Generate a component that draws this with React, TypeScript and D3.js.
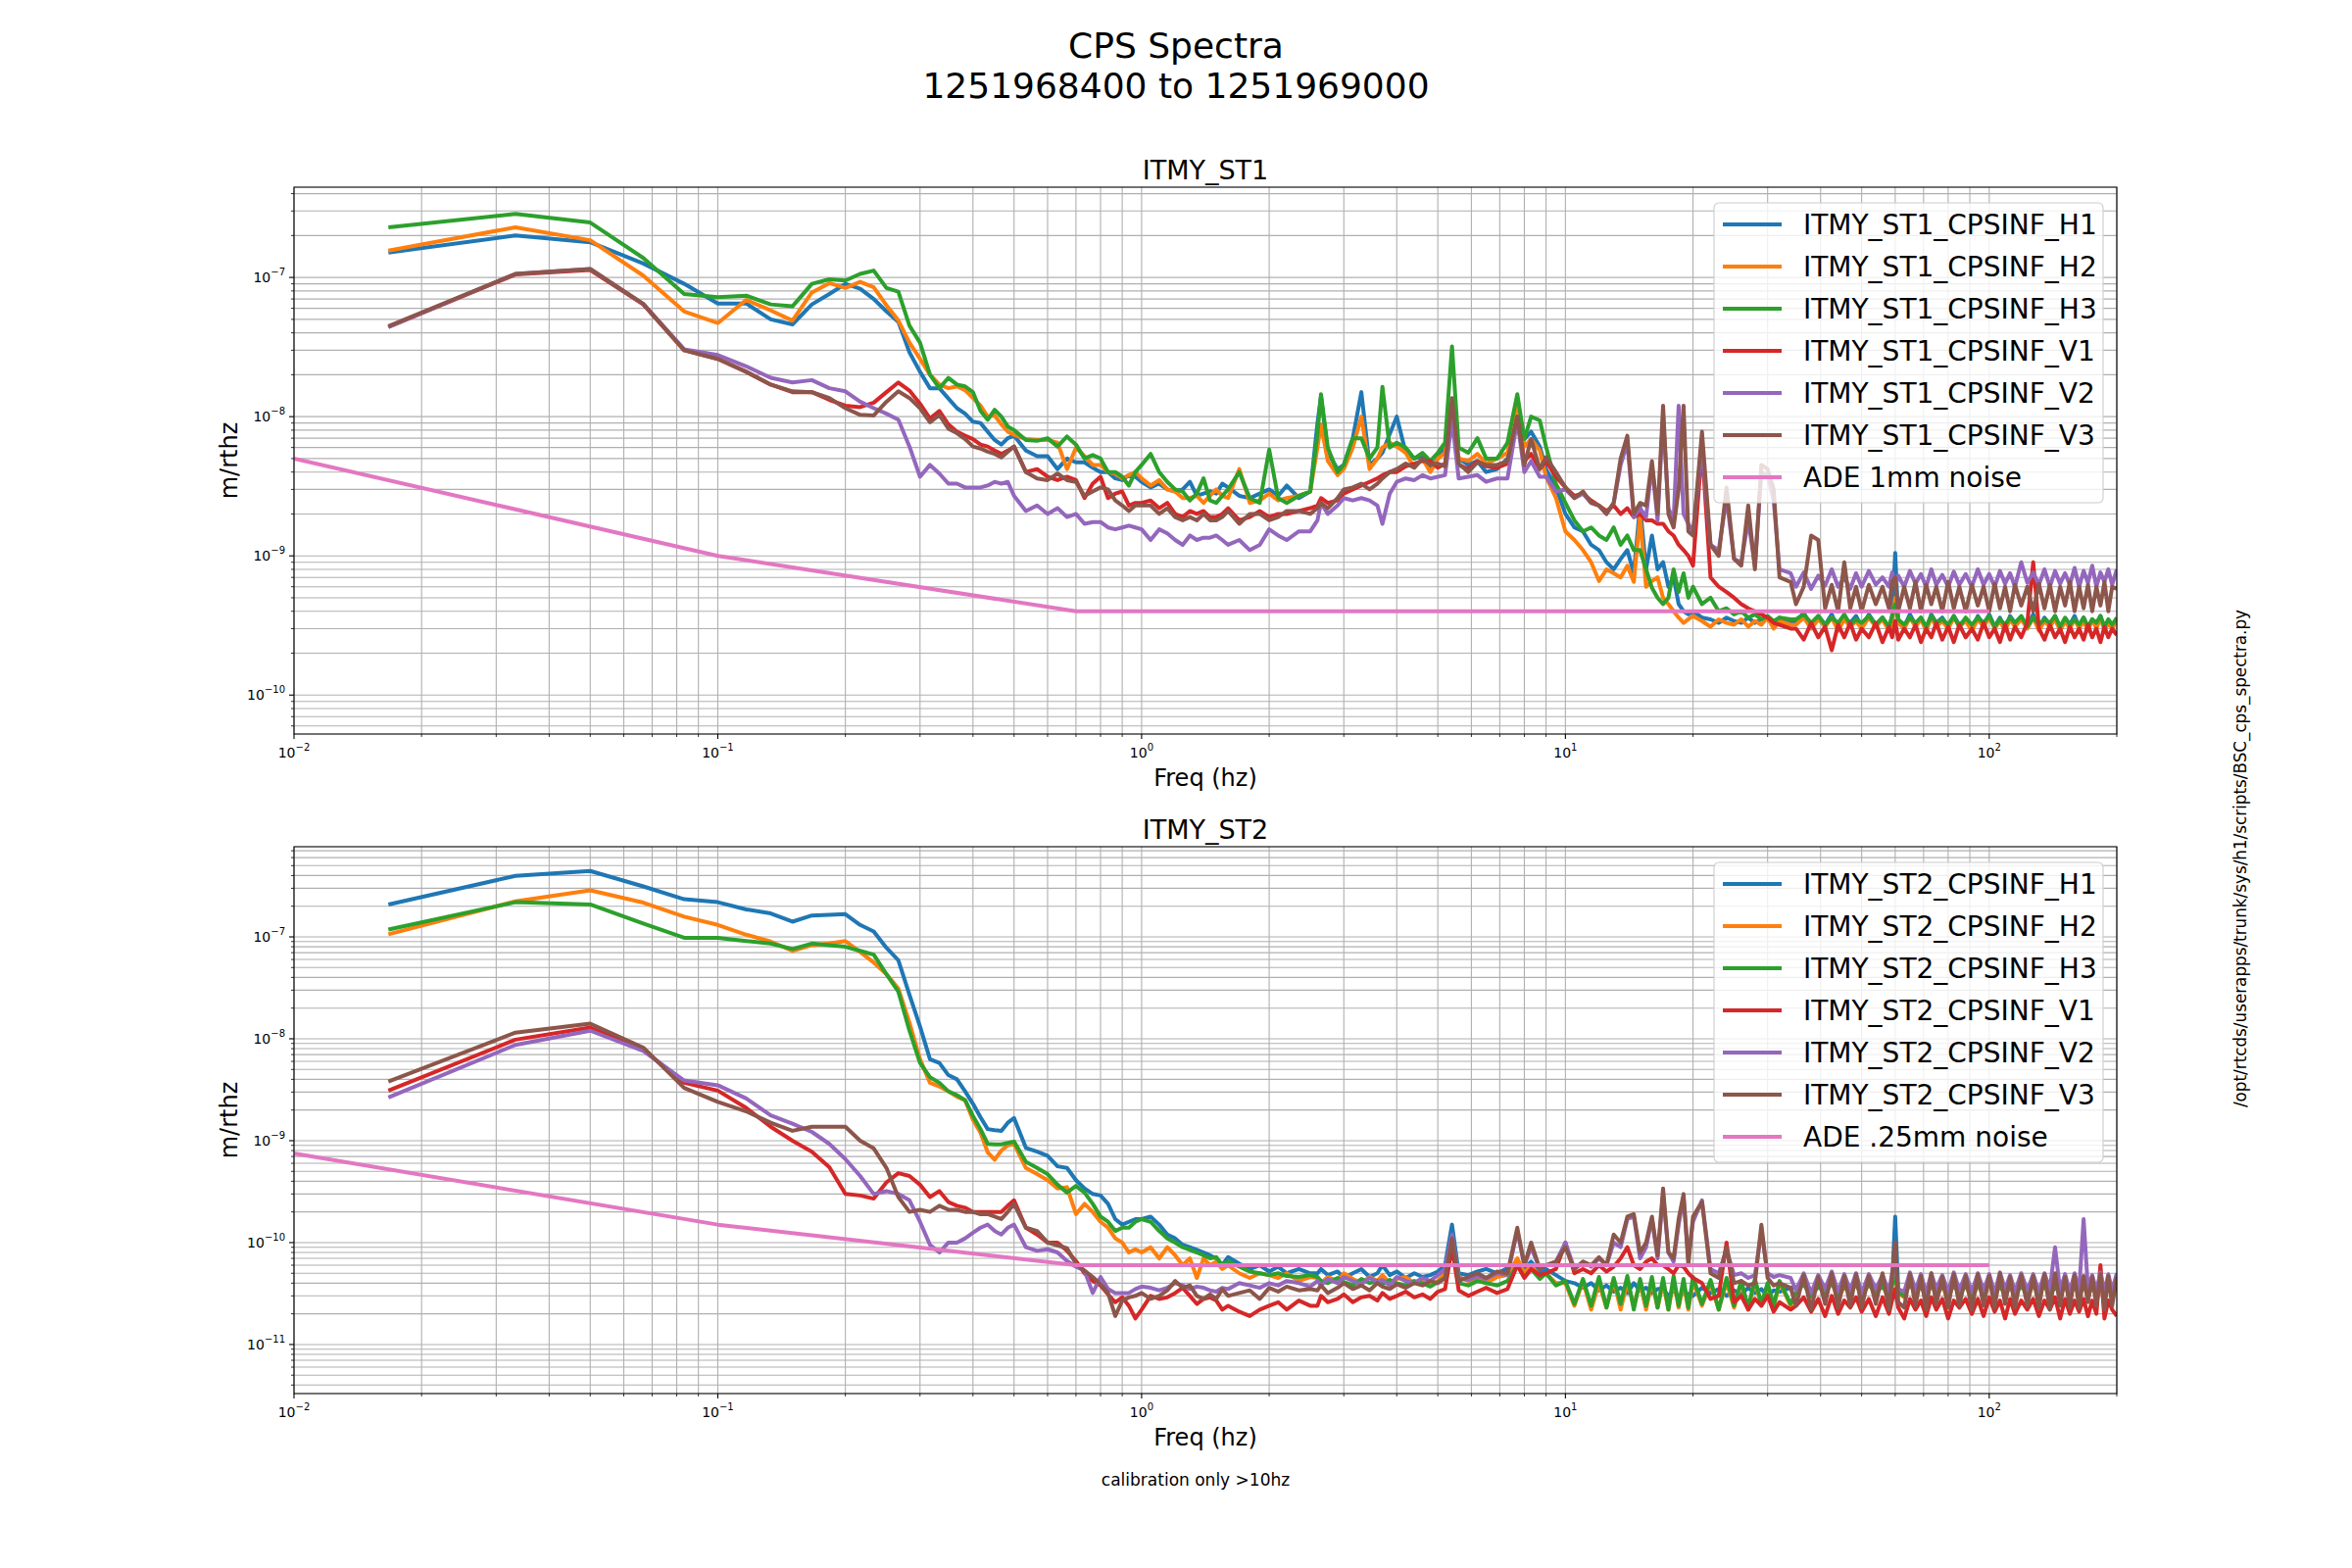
import React from "react";
import * as d3 from "d3";

// frequency grid (Hz), shared by every CPS trace
const FREQ = [
  0.0167, 0.0333, 0.05, 0.0667, 0.0833, 0.1, 0.1167, 0.1333, 0.15, 0.1667, 0.1833, 0.2, 0.2167, 0.2333, 0.25, 0.2667, 0.2833, 0.3, 0.3167, 0.3333, 0.35, 0.3667, 0.3833, 0.4, 0.4167, 0.4333, 0.45, 0.4667, 0.4833, 0.5,
  0.5333, 0.5667, 0.6, 0.6333, 0.6667, 0.7, 0.7333, 0.7667, 0.8, 0.8333, 0.8667, 0.9, 0.9333, 0.9667, 1.0,
  1.05, 1.1, 1.15, 1.2, 1.25, 1.3, 1.35, 1.4, 1.45, 1.5, 1.55, 1.6, 1.7, 1.8, 1.9, 2.0, 2.1, 2.2, 2.35, 2.5,
  2.6, 2.65, 2.75, 2.9, 3.0, 3.15, 3.3, 3.45, 3.6, 3.7, 3.85, 4.0, 4.2, 4.4, 4.6, 4.8, 5.0, 5.2, 5.4, 5.6, 5.9, 6.2, 6.5, 6.9, 7.3,
  7.7, 8.0, 8.3, 8.7, 9.0, 9.5, 10, 10.5, 11, 11.5, 12, 12.5, 13, 13.5, 14, 14.5, 15, 15.5, 16, 16.5,
  17, 17.5, 18, 18.5, 19, 19.5, 20, 21, 22, 23, 24, 25, 26, 27, 28, 29, 30, 31, 32, 34,
  35, 36.5, 38, 39.5, 41, 42.5, 44, 45.5, 47, 48.5,
  50, 52, 54, 56, 58, 59, 60, 61, 63, 65,
  67, 69, 71, 73, 75, 77.5, 80, 82.5, 85, 88,
  91, 94, 97, 100, 103, 106, 109, 112, 115, 119,
  123, 127, 131, 135, 139, 143, 147, 151, 155, 159,
  163, 167, 171, 175, 179, 183, 187, 191, 195, 200,
];

// ST1 spectra, nm/rtHz
const ST1_H1 = [
  151, 200, 179, 126, 90, 65, 65, 50, 46, 64, 76, 90, 83, 70, 57, 48, 29, 21, 16, 16, 13.5, 11.5, 10.5, 9.2, 9.0, 7.8, 6.8, 6.3, 7.0, 7.3,
  5.7, 5.2, 5.2, 4.2, 5.0, 4.7, 4.7, 4.3, 4.0, 4.0, 3.6, 3.5, 3.8, 3.7, 3.4,
  3.1, 3.3, 3.0, 2.9, 3.0, 3.4, 2.7, 2.8, 2.9, 2.8, 3.3, 3.1, 2.7, 2.6, 2.8, 3.0, 2.7, 3.2, 2.6, 2.9,
  9.0, 14.0, 5.5, 4.2, 4.5, 7.0, 15.0, 4.5, 5.0, 5.5, 7.5, 10.0, 5.5, 5.0, 5.2, 4.3, 5.0, 6.0, 10.0, 5.0, 4.5, 4.8, 4.0, 4.2, 5.0,
  10, 6.9, 7.8, 6.1, 4.2, 3.1, 2.0, 1.6, 1.5, 1.2, 1.1, 0.9, 0.8, 0.95, 1.1, 0.75, 2.3, 0.8, 1.4, 0.8,
  0.9, 0.6, 0.7, 0.45, 0.4, 0.38, 0.4, 0.36, 0.35, 0.33, 0.36, 0.34, 0.33, 0.36, 0.33, 0.35, 0.35, 0.32, 0.36, 0.33,
  0.34, 0.39, 0.31, 0.37, 0.32, 0.38, 0.3, 0.36, 0.33, 0.37,
  0.31, 0.38, 0.32, 0.36, 0.3, 0.37, 1.05, 0.34, 0.31, 0.38,
  0.32, 0.36, 0.3, 0.38, 0.33, 0.36, 0.31, 0.37, 0.32, 0.35,
  0.3, 0.37, 0.32, 0.38, 0.31, 0.36, 0.3, 0.37, 0.33, 0.36,
  0.31, 0.38, 0.3, 0.36, 0.32, 0.37, 0.3, 0.35, 0.32, 0.37,
  0.31, 0.36, 0.3, 0.35, 0.32, 0.37, 0.3, 0.34, 0.32, 0.35,
];
const ST1_H2 = [
  156, 229, 185, 103, 57, 47, 69, 58, 49, 78, 91, 84, 93, 85, 63, 49, 34, 26, 20, 17, 16, 16.5, 15.5, 13.6, 12, 10, 10.2, 8.8, 7.8, 7.4,
  6.9, 6.8, 6.8, 6.5, 4.2, 6.0, 5.2, 4.5, 4.5, 4.0, 3.9, 3.6, 3.8, 4.0, 3.6,
  3.2, 3.5, 3.0, 2.9, 2.6, 2.6, 2.7, 2.4, 2.7, 3.0, 2.7, 2.6, 4.2, 2.4, 2.5, 2.8, 2.5, 2.6, 2.7, 2.9,
  6.0, 8.8, 4.8, 3.8, 4.2, 6.0, 10.0, 4.2, 5.0, 6.0, 6.5, 6.1, 5.5, 4.3, 5.0, 4.0, 5.0, 5.5, 12.8, 5.0, 4.8, 5.4, 4.6, 5.0, 5.5,
  12.8, 6.1, 6.9, 5.7, 3.7, 2.6, 1.5, 1.3, 1.1, 0.9, 0.66, 0.8, 0.75, 0.7, 0.85, 0.65, 1.9, 0.6, 0.66, 0.7,
  0.5, 0.45, 0.4, 0.36, 0.33, 0.35, 0.37, 0.34, 0.31, 0.35, 0.33, 0.32, 0.35, 0.31, 0.34, 0.32, 0.36, 0.3, 0.34, 0.32,
  0.32, 0.36, 0.3, 0.35, 0.31, 0.36, 0.29, 0.35, 0.31, 0.34,
  0.3, 0.36, 0.31, 0.35, 0.29, 0.34, 0.5, 0.33, 0.3, 0.36,
  0.31, 0.35, 0.29, 0.36, 0.31, 0.34, 0.3, 0.36, 0.31, 0.34,
  0.29, 0.35, 0.31, 0.36, 0.3, 0.34, 0.29, 0.35, 0.31, 0.35,
  0.3, 0.36, 0.29, 0.34, 0.31, 0.35, 0.29, 0.34, 0.3, 0.35,
  0.3, 0.34, 0.29, 0.35, 0.3, 0.36, 0.29, 0.33, 0.3, 0.34,
];
const ST1_H3 = [
  229, 286, 248, 138, 76, 72, 74, 64, 62, 90, 97, 95, 106, 112, 84, 79, 45, 34, 20, 16, 19, 17, 16.5, 15, 11, 9.5, 11.2, 10, 8.5, 8.0,
  6.8, 6.7, 7.0, 6.1, 7.2, 6.3, 5.0, 5.3, 5.0, 4.0, 4.0, 3.7, 3.2, 4.0, 4.5,
  5.4, 4.0, 3.4, 3.0, 2.9, 2.5, 2.8, 3.6, 2.5, 2.4, 2.7, 3.0, 4.0, 2.6, 2.4, 5.8, 2.6, 2.4, 2.7, 2.9,
  7.5, 14.5, 6.0, 4.0, 4.5, 7.0, 7.0, 5.0, 6.0, 16.4, 6.0, 6.5, 6.0, 5.0, 5.5, 4.8, 5.5, 6.5, 32.0, 6.0, 5.5, 7.0, 5.0, 5.0, 6.5,
  14.5, 6.9, 10, 9.4, 6.1, 3.3, 2.4, 1.8, 1.5, 1.6, 1.4, 1.3, 1.6, 1.2, 1.4, 1.1, 1.1, 0.8, 0.59, 0.5,
  0.45, 0.5, 0.8, 0.55, 0.75, 0.5, 0.6, 0.45, 0.5, 0.4, 0.42, 0.38, 0.4, 0.36, 0.38, 0.35, 0.37, 0.34, 0.36, 0.35,
  0.35, 0.38, 0.33, 0.37, 0.32, 0.36, 0.33, 0.38, 0.32, 0.35,
  0.33, 0.37, 0.32, 0.36, 0.31, 0.37, 0.45, 0.35, 0.32, 0.36,
  0.33, 0.36, 0.31, 0.37, 0.33, 0.35, 0.32, 0.37, 0.31, 0.36,
  0.32, 0.36, 0.33, 0.37, 0.31, 0.35, 0.32, 0.36, 0.33, 0.37,
  0.31, 0.36, 0.32, 0.35, 0.33, 0.37, 0.31, 0.36, 0.32, 0.35,
  0.32, 0.36, 0.31, 0.35, 0.33, 0.37, 0.31, 0.35, 0.32, 0.36,
];
const ST1_V1 = [
  44, 105, 113, 64, 30, 26, 21, 17, 15, 15, 13.2, 12, 11.7, 12.6, 15, 17.6, 15.4, 12.4, 9.7, 11, 8.8, 7.8, 7.3, 6.9, 6.3, 6.1, 5.7, 5.4, 5.7, 6.1,
  4.0, 4.2, 3.7, 3.5, 3.7, 3.5, 2.6, 3.3, 3.7, 2.6, 2.8, 2.9, 2.3, 2.4, 2.4,
  2.5, 2.2, 2.4, 2.0, 1.9, 2.1, 2.0, 2.1, 1.9, 1.9, 2.0, 2.2, 1.8, 1.9, 2.1, 1.9, 2.0, 2.0, 2.1, 2.2,
  2.3, 2.6, 2.4, 2.5, 2.8, 3.0, 3.2, 3.4, 3.6, 3.8, 4.0, 4.0, 4.4, 4.6, 4.8, 4.8, 4.3, 4.6, 10.0, 4.5, 4.2, 4.8, 4.4, 4.3, 4.6,
  10, 4.8, 5.4, 4.2, 4.8, 3.7, 3.1, 2.7, 2.8, 2.5, 2.3, 2.1, 2.3, 2.0, 2.2, 1.9, 2.0, 1.8, 1.8, 1.7,
  1.7, 1.5, 1.4, 1.2, 1.1, 1.0, 0.85, 6.0, 0.7, 0.6, 0.55, 0.5, 0.45, 0.42, 0.4, 0.38, 0.36, 0.33, 0.32, 0.3,
  0.3, 0.25, 0.33, 0.26, 0.31, 0.21, 0.32, 0.26, 0.33, 0.25,
  0.3, 0.26, 0.33, 0.24, 0.31, 0.26, 0.34, 0.25, 0.3, 0.26,
  0.32, 0.24, 0.3, 0.26, 0.33, 0.25, 0.31, 0.24, 0.32, 0.26,
  0.3, 0.25, 0.33, 0.26, 0.3, 0.24, 0.32, 0.25, 0.31, 0.26,
  0.33, 0.9, 0.3, 0.25, 0.32, 0.26, 0.3, 0.24, 0.31, 0.26,
  0.3, 0.25, 0.32, 0.26, 0.3, 0.24, 0.31, 0.26, 0.3, 0.27,
];
const ST1_V2 = [
  44, 106, 115, 64.5, 30.5, 27.7, 23, 19, 17.6, 18.3, 16, 15.2, 12.8, 11.5, 10.5, 9.5, 6.1, 3.7, 4.5, 3.9, 3.3, 3.3, 3.1, 3.1, 3.1, 3.2, 3.4, 3.3, 3.4, 2.7,
  2.1, 2.3, 2.0, 2.2, 1.9, 2.0, 1.7, 1.75, 1.75, 1.6, 1.55, 1.6, 1.65, 1.6, 1.55,
  1.3, 1.55, 1.45, 1.3, 1.2, 1.4, 1.3, 1.35, 1.35, 1.4, 1.3, 1.2, 1.3, 1.1, 1.2, 1.55, 1.4, 1.3, 1.5, 1.5,
  1.8, 2.4, 2.0, 2.3, 2.6, 2.5, 2.6, 2.5, 2.3, 1.7, 2.8, 3.4, 3.6, 3.5, 3.8, 3.6, 3.7, 3.8, 9.5, 3.6, 3.7, 3.8, 3.4, 3.6, 3.6,
  9.4, 4.0, 4.8, 3.7, 3.7, 2.9, 3.0, 2.6, 2.8, 2.4, 2.3, 2.0, 2.4, 4.5, 6.5, 1.9, 2.2, 1.9, 4.5, 1.8,
  10, 2.2, 1.8, 12, 2.0, 1.7, 1.5, 6.0, 1.2, 1.1, 2.6, 0.95, 0.9, 1.8, 0.85, 4.0, 3.8, 2.5, 0.8, 0.75,
  0.6, 0.76, 0.58, 0.72, 0.61, 0.8, 0.6, 0.7, 0.58, 0.75,
  0.6, 0.78, 0.62, 0.7, 0.6, 0.76, 0.62, 0.72, 0.6, 0.78,
  0.63, 0.74, 0.6, 0.8, 0.62, 0.73, 0.6, 0.77, 0.62, 0.74,
  0.6, 0.8, 0.62, 0.74, 0.6, 0.78, 0.63, 0.75, 0.6, 0.9,
  0.64, 0.76, 0.62, 0.8, 0.6, 0.78, 0.63, 0.75, 0.62, 0.82,
  0.6, 0.78, 0.64, 0.85, 0.6, 0.76, 0.65, 0.8, 0.62, 0.8,
];
const ST1_V3 = [
  44.6, 106, 115, 64.5, 30, 26, 21, 17, 15.2, 15, 13.6, 11.5, 10.3, 10.2, 12.8, 15.2, 13.6, 11.5, 9.1, 10.3, 8.2, 7.6, 6.9, 6.1, 5.9, 5.6, 5.4, 5.1, 5.6, 6.1,
  4.0, 3.6, 3.5, 3.9, 3.5, 3.4, 2.7, 2.9, 3.1, 3.0, 2.5, 2.3, 2.1, 2.3, 2.3,
  2.3, 2.0, 2.2, 1.9, 1.8, 1.9, 1.8, 2.0, 1.8, 1.8, 1.9, 2.1, 1.7, 2.0, 2.0, 1.8, 1.9, 2.1, 2.1, 2.0,
  2.2, 2.4, 2.2, 2.6, 3.0, 3.1, 3.3, 3.0, 3.3, 3.6, 4.0, 4.2, 4.6, 4.3, 5.0, 4.5, 4.6, 4.4, 13.6, 4.6, 4.0, 4.7, 4.5, 4.5, 4.8,
  10, 4.5, 6.9, 4.2, 5.1, 4.0, 3.1, 2.6, 2.9, 2.4, 2.3, 2.0, 2.4, 5.0, 7.3, 2.0, 2.4, 2.3, 4.8, 2.0,
  12, 2.0, 1.6, 3.0, 12, 1.5, 1.4, 7.8, 1.2, 1.0, 3.1, 0.95, 0.85, 2.3, 0.8, 4.5, 4.2, 3.0, 0.7, 0.65,
  0.45, 0.6, 1.4, 1.3, 0.42, 0.62, 0.4, 0.9, 0.42, 0.6,
  0.4, 0.62, 0.45, 0.6, 0.42, 0.65, 0.7, 0.4, 0.6, 0.42,
  0.65, 0.4, 0.62, 0.45, 0.6, 0.4, 0.65, 0.42, 0.6, 0.4,
  0.62, 0.44, 0.6, 0.4, 0.63, 0.42, 0.6, 0.4, 0.62, 0.44,
  0.6, 0.4, 0.63, 0.42, 0.62, 0.4, 0.6, 0.44, 0.65, 0.4,
  0.6, 0.42, 0.62, 0.4, 0.6, 0.44, 0.65, 0.4, 0.6, 0.58,
];

// ST2 spectra, nm/rtHz
const ST2_H1 = [
  208, 397, 443, 313, 234, 219, 186, 170, 141, 162, 165, 167, 131, 113, 78, 59, 27, 13.2, 6.3, 5.8, 4.4, 4.0, 3.05, 2.3, 1.7, 1.3, 1.27, 1.25, 1.5, 1.67,
  0.85, 0.78, 0.71, 0.56, 0.54, 0.41, 0.34, 0.3, 0.29, 0.24, 0.17, 0.15, 0.16, 0.17, 0.17,
  0.18, 0.15, 0.12, 0.11, 0.095, 0.09, 0.085, 0.08, 0.075, 0.07, 0.06, 0.072, 0.062, 0.055, 0.06, 0.052, 0.058, 0.05, 0.055, 0.05,
  0.05, 0.055, 0.048, 0.052, 0.045, 0.05, 0.055, 0.046, 0.05, 0.06, 0.048, 0.052, 0.045, 0.05, 0.046, 0.048, 0.052, 0.06, 0.15, 0.05, 0.048, 0.052, 0.055, 0.05, 0.056,
  0.06, 0.055, 0.065, 0.05, 0.055, 0.048, 0.042, 0.04, 0.036, 0.04, 0.034, 0.038, 0.033, 0.036, 0.032, 0.04, 0.034, 0.036, 0.032, 0.035,
  0.035, 0.03, 0.034, 0.029, 0.033, 0.031, 0.03, 0.036, 0.032, 0.035, 0.03, 0.034, 0.031, 0.036, 0.032, 0.035, 0.03, 0.034, 0.033, 0.036,
  0.036, 0.043, 0.031, 0.041, 0.033, 0.045, 0.031, 0.04, 0.034, 0.044,
  0.032, 0.042, 0.033, 0.041, 0.03, 0.04, 0.18, 0.034, 0.031, 0.043,
  0.033, 0.041, 0.03, 0.044, 0.032, 0.04, 0.031, 0.043, 0.033, 0.041,
  0.03, 0.042, 0.034, 0.04, 0.031, 0.044, 0.032, 0.04, 0.033, 0.042,
  0.031, 0.04, 0.033, 0.042, 0.03, 0.041, 0.032, 0.043, 0.031, 0.04,
  0.032, 0.042, 0.03, 0.04, 0.033, 0.043, 0.031, 0.041, 0.032, 0.04,
];
const ST2_H2 = [
  106, 223, 286, 217, 158, 131, 105, 90, 73, 83, 86, 91, 71, 56, 43, 31, 14.4, 6.3, 3.7, 3.4, 3.05, 2.7, 2.5, 1.6, 1.2, 0.77, 0.65, 0.8, 0.9, 0.93,
  0.54, 0.47, 0.41, 0.34, 0.35, 0.19, 0.24, 0.2, 0.16, 0.14, 0.11, 0.1, 0.08, 0.086, 0.08,
  0.09, 0.07, 0.09, 0.075, 0.06, 0.07, 0.045, 0.07, 0.06, 0.065, 0.055, 0.06, 0.05, 0.045, 0.05, 0.048, 0.045, 0.05, 0.042, 0.046,
  0.045, 0.04, 0.046, 0.042, 0.05, 0.044, 0.04, 0.046, 0.042, 0.048, 0.04, 0.044, 0.046, 0.04, 0.044, 0.038, 0.042, 0.05, 0.1, 0.046, 0.042, 0.045, 0.04, 0.046, 0.048,
  0.07, 0.05, 0.06, 0.046, 0.05, 0.04, 0.04, 0.024, 0.042, 0.022, 0.04, 0.023, 0.043, 0.022, 0.041, 0.024, 0.04, 0.022, 0.042, 0.023,
  0.04, 0.022, 0.043, 0.023, 0.04, 0.022, 0.042, 0.024, 0.04, 0.022, 0.041, 0.023, 0.04, 0.022, 0.042, 0.024, 0.039, 0.023, 0.041, 0.024,
  0.032, 0.04, 0.029, 0.038, 0.031, 0.041, 0.028, 0.037, 0.032, 0.04,
  0.03, 0.039, 0.031, 0.038, 0.028, 0.037, 0.05, 0.032, 0.029, 0.04,
  0.031, 0.038, 0.028, 0.04, 0.03, 0.037, 0.029, 0.039, 0.031, 0.038,
  0.028, 0.038, 0.031, 0.04, 0.029, 0.039, 0.03, 0.037, 0.031, 0.039,
  0.029, 0.038, 0.03, 0.039, 0.028, 0.04, 0.03, 0.038, 0.029, 0.039,
  0.03, 0.039, 0.029, 0.038, 0.031, 0.04, 0.028, 0.038, 0.03, 0.037,
];
const ST2_H3 = [
  118, 219, 208, 135, 98, 98, 91, 86, 76, 86, 83, 80, 73, 67, 43, 29, 12, 5.8, 4.2, 3.7, 3.05, 2.8, 2.5, 1.75, 1.3, 0.93, 0.92, 0.92, 0.95, 0.98,
  0.62, 0.54, 0.47, 0.37, 0.31, 0.36, 0.31, 0.24, 0.18, 0.16, 0.13, 0.14, 0.14, 0.16, 0.17,
  0.16, 0.13, 0.11, 0.1, 0.09, 0.085, 0.08, 0.075, 0.07, 0.072, 0.06, 0.065, 0.058, 0.052, 0.05, 0.048, 0.05, 0.047, 0.046, 0.048,
  0.046, 0.042, 0.04, 0.045, 0.041, 0.038, 0.044, 0.04, 0.042, 0.039, 0.043, 0.04, 0.038, 0.042, 0.04, 0.037, 0.041, 0.045, 0.09, 0.04, 0.038, 0.042, 0.04, 0.038, 0.042,
  0.06, 0.046, 0.055, 0.044, 0.05, 0.038, 0.042, 0.025, 0.044, 0.024, 0.046, 0.023, 0.045, 0.025, 0.047, 0.022, 0.044, 0.024, 0.046, 0.023,
  0.045, 0.022, 0.047, 0.024, 0.044, 0.023, 0.046, 0.025, 0.043, 0.022, 0.045, 0.024, 0.042, 0.023, 0.044, 0.025, 0.04, 0.024, 0.042, 0.025,
  0.033, 0.039, 0.03, 0.037, 0.032, 0.041, 0.029, 0.038, 0.031, 0.04,
  0.03, 0.039, 0.032, 0.038, 0.029, 0.039, 0.045, 0.033, 0.03, 0.04,
  0.032, 0.038, 0.029, 0.04, 0.031, 0.038, 0.03, 0.039, 0.031, 0.038,
  0.029, 0.039, 0.032, 0.041, 0.03, 0.038, 0.031, 0.039, 0.03, 0.038,
  0.031, 0.039, 0.03, 0.04, 0.029, 0.038, 0.031, 0.04, 0.03, 0.039,
  0.031, 0.04, 0.03, 0.038, 0.032, 0.041, 0.029, 0.039, 0.031, 0.038,
];
const ST2_V1 = [
  3.1, 9.8, 12.9, 7.8, 3.7, 3.1, 2.1, 1.37, 1.0, 0.78, 0.55, 0.3, 0.29, 0.27, 0.39, 0.48, 0.45, 0.37, 0.28, 0.32, 0.25, 0.23, 0.22, 0.2, 0.2, 0.2, 0.2, 0.2, 0.23, 0.26,
  0.14, 0.12, 0.1, 0.1, 0.083, 0.066, 0.05, 0.042, 0.038, 0.031, 0.026, 0.029, 0.024, 0.018, 0.022,
  0.03, 0.028, 0.029, 0.032, 0.036, 0.03, 0.025, 0.028, 0.029, 0.027, 0.022, 0.024, 0.021, 0.019, 0.022, 0.024, 0.026, 0.022, 0.027, 0.024,
  0.024, 0.03, 0.026, 0.028, 0.031, 0.026, 0.029, 0.03, 0.027, 0.032, 0.028, 0.03, 0.033, 0.029, 0.031, 0.028, 0.033, 0.035, 0.09, 0.034, 0.03, 0.033, 0.036, 0.032, 0.035,
  0.06, 0.045, 0.055, 0.048, 0.05, 0.055, 0.1, 0.05, 0.055, 0.05, 0.06, 0.052, 0.058, 0.07, 0.09, 0.06, 0.055, 0.065, 0.07, 0.06,
  0.06, 0.055, 0.05, 0.06, 0.058, 0.05, 0.045, 0.04, 0.028, 0.03, 0.1, 0.026, 0.03, 0.022, 0.028, 0.024, 0.03, 0.021, 0.026, 0.022,
  0.024, 0.029, 0.021, 0.028, 0.019, 0.03, 0.02, 0.027, 0.023, 0.029,
  0.021, 0.028, 0.019, 0.029, 0.02, 0.027, 0.035, 0.023, 0.018, 0.028,
  0.022, 0.027, 0.019, 0.029, 0.022, 0.028, 0.018, 0.027, 0.023, 0.028,
  0.02, 0.028, 0.019, 0.029, 0.021, 0.027, 0.018, 0.028, 0.02, 0.027,
  0.022, 0.028, 0.019, 0.027, 0.022, 0.029, 0.018, 0.028, 0.02, 0.027,
  0.021, 0.028, 0.019, 0.027, 0.02, 0.06, 0.018, 0.027, 0.022, 0.019,
];
const ST2_V2 = [
  2.66, 8.7, 12, 7.6, 3.9, 3.5, 2.6, 1.77, 1.47, 1.22, 0.93, 0.66, 0.45, 0.3, 0.32, 0.3, 0.26, 0.16, 0.095, 0.08, 0.1, 0.1, 0.11, 0.125, 0.14, 0.15, 0.13, 0.12, 0.14, 0.15,
  0.09, 0.083, 0.086, 0.08, 0.066, 0.058, 0.053, 0.032, 0.046, 0.035, 0.032, 0.032, 0.032, 0.035, 0.037,
  0.036, 0.034, 0.036, 0.04, 0.038, 0.035, 0.037, 0.036, 0.034, 0.033, 0.036, 0.035, 0.04, 0.038, 0.036, 0.04, 0.038, 0.042, 0.04, 0.037,
  0.042, 0.038, 0.044, 0.04, 0.046, 0.042, 0.039, 0.045, 0.041, 0.043, 0.038, 0.046, 0.042, 0.04, 0.045, 0.042, 0.048, 0.055, 0.12, 0.045, 0.043, 0.047, 0.044, 0.05, 0.048,
  0.13, 0.06, 0.09, 0.055, 0.06, 0.065, 0.1, 0.055, 0.065, 0.058, 0.07, 0.06, 0.1, 0.09, 0.17, 0.18, 0.07, 0.09, 0.17, 0.07,
  0.3, 0.08, 0.065, 0.15, 0.28, 0.07, 0.16, 0.26, 0.055, 0.05, 0.085, 0.048, 0.05, 0.045, 0.048, 0.13, 0.05, 0.046, 0.048, 0.045,
  0.034, 0.05, 0.032, 0.048, 0.035, 0.052, 0.033, 0.049, 0.034, 0.05,
  0.032, 0.049, 0.035, 0.048, 0.033, 0.05, 0.06, 0.035, 0.033, 0.051,
  0.034, 0.049, 0.032, 0.05, 0.035, 0.048, 0.033, 0.051, 0.034, 0.049,
  0.033, 0.05, 0.034, 0.049, 0.032, 0.051, 0.035, 0.048, 0.033, 0.05,
  0.034, 0.049, 0.033, 0.05, 0.035, 0.09, 0.034, 0.049, 0.033, 0.05,
  0.034, 0.17, 0.035, 0.048, 0.034, 0.051, 0.033, 0.049, 0.034, 0.05,
];
const ST2_V3 = [
  3.8, 11.5, 14.1, 8.2, 3.3, 2.4, 1.94, 1.5, 1.25, 1.37, 1.37, 1.37, 1.0, 0.84, 0.54, 0.28, 0.2, 0.21, 0.2, 0.23, 0.21, 0.21, 0.2, 0.2, 0.19, 0.19, 0.18, 0.17, 0.2, 0.24,
  0.14, 0.13, 0.1, 0.094, 0.088, 0.062, 0.053, 0.046, 0.039, 0.032, 0.019, 0.027, 0.029, 0.03, 0.032,
  0.028, 0.03, 0.034, 0.042, 0.036, 0.038, 0.03, 0.028, 0.031, 0.028, 0.035, 0.03, 0.032, 0.034, 0.028, 0.036, 0.033, 0.037, 0.034, 0.035,
  0.034, 0.038, 0.032, 0.036, 0.04, 0.035, 0.038, 0.034, 0.04, 0.037, 0.035, 0.039, 0.036, 0.04, 0.038, 0.042, 0.04, 0.045, 0.11, 0.042, 0.046, 0.05, 0.045, 0.052, 0.05,
  0.14, 0.06, 0.1, 0.055, 0.06, 0.065, 0.09, 0.055, 0.065, 0.06, 0.072, 0.06, 0.12, 0.1, 0.18, 0.19, 0.08, 0.1, 0.18, 0.075,
  0.34, 0.08, 0.07, 0.17, 0.3, 0.06, 0.18, 0.25, 0.05, 0.045, 0.09, 0.04, 0.042, 0.038, 0.04, 0.15, 0.045, 0.038, 0.04, 0.036,
  0.024, 0.048, 0.022, 0.046, 0.025, 0.05, 0.023, 0.047, 0.024, 0.049,
  0.023, 0.047, 0.025, 0.05, 0.022, 0.048, 0.1, 0.026, 0.023, 0.049,
  0.024, 0.047, 0.022, 0.05, 0.025, 0.046, 0.023, 0.049, 0.024, 0.047,
  0.022, 0.049, 0.024, 0.047, 0.023, 0.05, 0.025, 0.046, 0.023, 0.048,
  0.024, 0.047, 0.023, 0.049, 0.022, 0.05, 0.024, 0.046, 0.023, 0.048,
  0.023, 0.047, 0.026, 0.046, 0.024, 0.049, 0.022, 0.047, 0.024, 0.046,
];

// ADE sensor noise references, nm/rtHz
const ADE_FREQ = [0.01, 0.1, 0.7, 100];
const ADE_1MM = [5, 1, 0.4, 0.4];
const ADE_025MM = [0.75, 0.15, 0.06, 0.06];

const ST1_LABELS = ["ITMY_ST1_CPSINF_H1", "ITMY_ST1_CPSINF_H2", "ITMY_ST1_CPSINF_H3", "ITMY_ST1_CPSINF_V1", "ITMY_ST1_CPSINF_V2", "ITMY_ST1_CPSINF_V3", "ADE 1mm noise"];
const ST2_LABELS = ["ITMY_ST2_CPSINF_H1", "ITMY_ST2_CPSINF_H2", "ITMY_ST2_CPSINF_H3", "ITMY_ST2_CPSINF_V1", "ITMY_ST2_CPSINF_V2", "ITMY_ST2_CPSINF_V3", "ADE .25mm noise"];
const COLORS = ["#1f77b4", "#ff7f0e", "#2ca02c", "#d62728", "#9467bd", "#8c564b", "#e377c2"];

const FONT = "'DejaVu Sans', 'Liberation Sans', sans-serif";
const AX_L = 300;
const AX_R = 2160;
const AX_H = 558;
const NM = 1e-9;
const LW = 4;

const isDecade = (t: number) => Math.abs(Math.log10(t) - Math.round(Math.log10(t))) < 1e-6;

function Pow10({ x, y, t, anchor }: { x: number; y: number; t: number; anchor: string }) {
  const e = Math.round(Math.log10(t));
  return (
    <text x={x} y={y} textAnchor={anchor} fontSize={14} fontFamily={FONT} fill="#000">
      10<tspan dy={-7} fontSize={10}>{e < 0 ? "\u2212" + -e : String(e)}</tspan>
    </text>
  );
}

interface PanelProps {
  id: string;
  top: number;
  title: string;
  series: number[][];
  labels: string[];
  noise: number[];
  yDomain: [number, number];
}

function Panel({ id, top, title, series, labels, noise, yDomain }: PanelProps) {
  const bottom = top + AX_H;
  const x = d3.scaleLog().domain([0.01, 200]).range([AX_L, AX_R]);
  const y = d3.scaleLog().domain(yDomain).range([bottom, top]);
  const line = d3
    .line<[number, number]>()
    .x((d) => x(d[0]))
    .y((d) => y(d[1]));

  const xt = x.ticks();
  const yt = y.ticks().filter((t) => t >= yDomain[0] && t <= yDomain[1]);

  const tracePts = (vals: number[]) =>
    FREQ.map((f, i) => [f, vals[i]] as [number, number])
      .filter((p) => p[1] != null)
      .map((p) => [p[0], p[1] * NM] as [number, number]);
  const noisePts = ADE_FREQ.map((f, i) => [f, noise[i] * NM] as [number, number]);

  // legend box
  const lgX = 1749;
  const lgY = top + 16;
  const lgW = 397;
  const rowH = 43;
  const lgH = 306;

  return (
    <g>
      <defs>
        <clipPath id={`clip-${id}`}>
          <rect x={AX_L} y={top} width={AX_R - AX_L} height={AX_H} />
        </clipPath>
      </defs>

      {/* grid */}
      <g stroke="#b0b0b0" strokeWidth={1.1}>
        {xt.map((t, i) => (
          <line key={`gx${i}`} x1={x(t)} x2={x(t)} y1={top} y2={bottom} />
        ))}
        {yt.map((t, i) => (
          <line key={`gy${i}`} x1={AX_L} x2={AX_R} y1={y(t)} y2={y(t)} />
        ))}
      </g>

      {/* traces */}
      <g clipPath={`url(#clip-${id})`} fill="none" strokeWidth={LW} strokeLinejoin="round">
        {series.map((vals, i) => (
          <path key={i} d={line(tracePts(vals)) || ""} stroke={COLORS[i]} />
        ))}
        <path d={line(noisePts) || ""} stroke={COLORS[6]} />
      </g>

      {/* spines */}
      <rect x={AX_L} y={top} width={AX_R - AX_L} height={AX_H} fill="none" stroke="#000" strokeWidth={1.1} />

      {/* x ticks */}
      {xt.map((t, i) => {
        const major = isDecade(t);
        return (
          <g key={`tx${i}`}>
            <line x1={x(t)} x2={x(t)} y1={bottom} y2={bottom + (major ? 5 : 3)} stroke="#000" strokeWidth={major ? 1.1 : 0.8} />
            {major && <Pow10 x={x(t)} y={bottom + 24} t={t} anchor="middle" />}
          </g>
        );
      })}

      {/* y ticks */}
      {yt.map((t, i) => {
        const major = isDecade(t);
        return (
          <g key={`ty${i}`}>
            <line x1={AX_L - (major ? 5 : 3)} x2={AX_L} y1={y(t)} y2={y(t)} stroke="#000" strokeWidth={major ? 1.1 : 0.8} />
            {major && <Pow10 x={AX_L - 9} y={y(t) + 5} t={t} anchor="end" />}
          </g>
        );
      })}

      {/* labels */}
      <text x={(AX_L + AX_R) / 2} y={top - 8} textAnchor="middle" fontSize={27} fontFamily={FONT}>
        {title}
      </text>
      <text x={(AX_L + AX_R) / 2} y={bottom + 53} textAnchor="middle" fontSize={24} fontFamily={FONT}>
        Freq (hz)
      </text>
      <text transform={`translate(242,${top + AX_H / 2}) rotate(-90)`} textAnchor="middle" fontSize={24} fontFamily={FONT}>
        m/rthz
      </text>

      {/* legend */}
      <rect x={lgX} y={lgY} width={lgW} height={lgH} rx={5} fill="#fff" fillOpacity={0.8} stroke="#cccccc" strokeWidth={1.1} />
      {labels.map((lab, i) => {
        const cy = lgY + 22 + i * rowH;
        return (
          <g key={`lg${i}`}>
            <line x1={lgX + 9} x2={lgX + 69} y1={cy} y2={cy} stroke={COLORS[i]} strokeWidth={LW} />
            <text x={lgX + 91} y={cy + 10} fontSize={28} fontFamily={FONT}>
              {lab}
            </text>
          </g>
        );
      })}
    </g>
  );
}

export default function App() {
  return (
    <>
      <style>{`body{margin:0}`}</style>
      <svg width={2400} height={1600} viewBox="0 0 2400 1600" style={{ display: "block" }}>
        <rect x={0} y={0} width={2400} height={1600} fill="#fff" />
        <text x={1200} y={59} textAnchor="middle" fontSize={36} fontFamily={FONT}>
          CPS Spectra
        </text>
        <text x={1200} y={100} textAnchor="middle" fontSize={36} fontFamily={FONT}>
          1251968400 to 1251969000
        </text>

        <Panel
          id="st1"
          top={191}
          title="ITMY_ST1"
          series={[ST1_H1, ST1_H2, ST1_H3, ST1_V1, ST1_V2, ST1_V3]}
          labels={ST1_LABELS}
          noise={ADE_1MM}
          yDomain={[5.25e-11, 4.45e-7]}
        />
        <Panel
          id="st2"
          top={864}
          title="ITMY_ST2"
          series={[ST2_H1, ST2_H2, ST2_H3, ST2_V1, ST2_V2, ST2_V3]}
          labels={ST2_LABELS}
          noise={ADE_025MM}
          yDomain={[3.3e-12, 7.67e-7]}
        />

        <text x={1220} y={1516} textAnchor="middle" fontSize={17} fontFamily={FONT}>
          calibration only &gt;10hz
        </text>
        <text transform="translate(2292,876) rotate(-90)" textAnchor="middle" fontSize={16.8} fontFamily={FONT}>
          /opt/rtcds/userapps/trunk/sys/h1/scripts/BSC_cps_spectra.py
        </text>
      </svg>
    </>
  );
}
